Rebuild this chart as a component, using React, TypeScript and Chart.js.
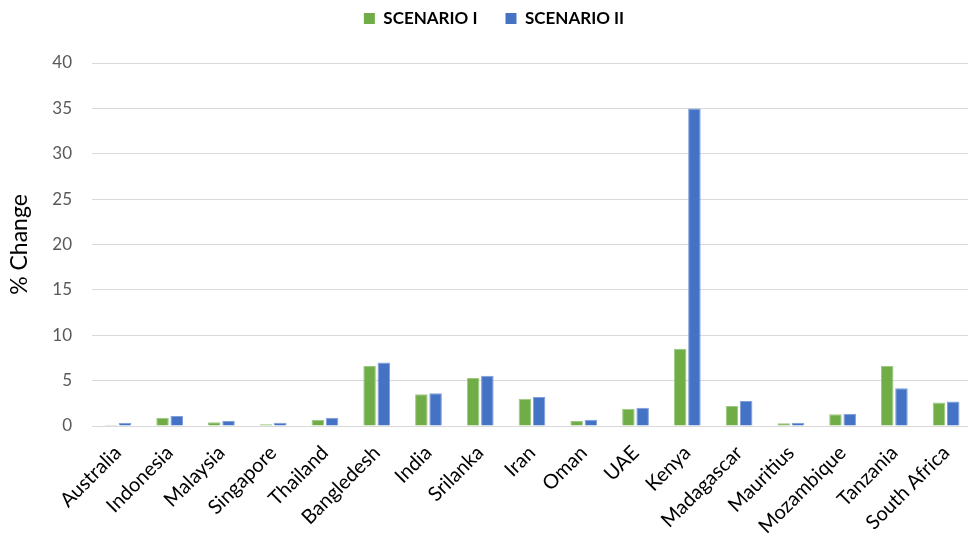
import React, { useEffect, useRef } from "react";
import { Chart, registerables } from "chart.js";

Chart.register(...registerables);

const countries = [
  "Australia", "Indonesia", "Malaysia", "Singapore", "Thailand", "Bangledesh",
  "India", "Srilanka", "Iran", "Oman", "UAE", "Kenya", "Madagascar",
  "Mauritius", "Mozambique", "Tanzania", "South Africa",
];

const scenarioI = [0.1, 0.9, 0.4, 0.2, 0.7, 6.6, 3.5, 5.3, 3.0, 0.55, 1.9, 8.5, 2.2, 0.3, 1.3, 6.6, 2.6];
const scenarioII = [0.35, 1.1, 0.55, 0.35, 0.9, 7.0, 3.6, 5.55, 3.2, 0.7, 2.0, 35.0, 2.75, 0.35, 1.35, 4.15, 2.7];

const yTicks = { min: 0, max: 40, step: 5 };

const FONT = "Lato, 'Open Sans', sans-serif";

// The plot runs a few pixels past the visible frame on the right.
const CANVAS_W = 972;
const VIEW_W = 968;
const VIEW_H = 537;

// Extra room between the legend and the plot area, and a small shift of the legend to the right.
const legendGap = {
  id: "legendGap",
  beforeLayout(chart: any) {
    const legend = chart.legend;
    if (!legend || legend.__gapPatched) return;
    const fit = legend.fit;
    legend.fit = function () {
      fit.call(this);
      this.height += 26;
    };
    legend.__gapPatched = true;
  },
  afterLayout(chart: any) {
    const legend = chart.legend;
    if (!legend) return;
    legend.left += 8;
    legend.right += 8;
  },
};

export default function App() {
  const canvasRef = useRef<HTMLCanvasElement | null>(null);

  useEffect(() => {
    if (!canvasRef.current) return;
    const chart = new Chart(canvasRef.current, {
      type: "bar",
      data: {
        labels: countries,
        datasets: [
          {
            label: "SCENARIO I",
            data: scenarioI,
            backgroundColor: "#70AD47",
            borderColor: "#9CC983",
            borderWidth: 1,
            categoryPercentage: 0.55,
            barPercentage: 0.88,
          },
          {
            label: "SCENARIO II",
            data: scenarioII,
            backgroundColor: "#4472C4",
            borderColor: "#7E9FD8",
            borderWidth: 1,
            categoryPercentage: 0.55,
            barPercentage: 0.88,
          },
        ],
      },
      plugins: [legendGap],
      options: {
        animation: false,
        responsive: false,
        maintainAspectRatio: false,
        layout: { padding: { top: -18, right: 0, bottom: 0, left: 0 } },
        plugins: {
          tooltip: { enabled: false },
          legend: {
            position: "top",
            labels: {
              boxWidth: 11,
              boxHeight: 11,
              padding: 28,
              color: "#000",
              font: { family: FONT, size: 17, weight: "bold" },
              generateLabels: (c: any) =>
                Chart.defaults.plugins.legend.labels.generateLabels(c).map((l: any) => ({
                  ...l,
                  strokeStyle: l.fillStyle,
                  lineWidth: 0,
                })),
            },
          },
        },
        scales: {
          x: {
            grid: { display: false, drawTicks: false },
            border: { color: "#D9D9D9", width: 1 },
            ticks: {
              color: "#000",
              font: { family: FONT, size: 20 },
              minRotation: 45,
              maxRotation: 45,
              autoSkip: false,
              padding: 15,
            },
            afterFit: (scale: any) => {
              scale.height = 111;
              scale.paddingLeft = 0;
              scale.paddingRight = 0;
            },
          },
          y: {
            min: yTicks.min,
            max: yTicks.max,
            grid: { color: "#D9D9D9", lineWidth: 1, drawTicks: false },
            border: { display: false },
            ticks: {
              stepSize: yTicks.step,
              color: "#595959",
              font: { family: FONT, size: 17 },
              padding: 20,
            },
            title: {
              display: true,
              text: "% Change",
              color: "#000",
              font: { family: FONT, size: 23 },
              padding: { top: 6, bottom: 0 },
            },
            afterFit: (scale: any) => {
              scale.width = 92;
            },
          },
        },
      },
    });
    return () => chart.destroy();
  }, []);

  return (
    <div
      style={{
        position: "fixed",
        left: 0,
        top: 0,
        width: VIEW_W,
        height: VIEW_H,
        overflow: "hidden",
        background: "#fff",
      }}
    >
      <canvas
        ref={canvasRef}
        width={CANVAS_W}
        height={VIEW_H}
        style={{ display: "block", width: CANVAS_W, height: VIEW_H }}
      />
    </div>
  );
}
